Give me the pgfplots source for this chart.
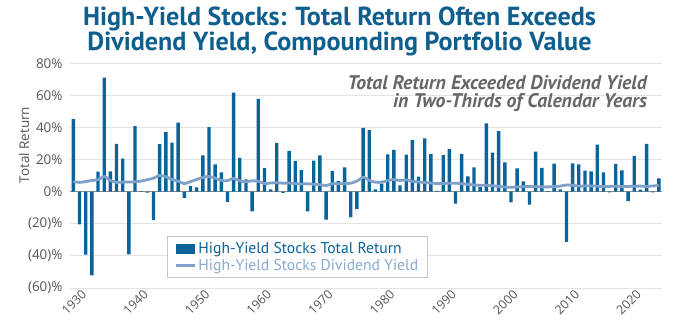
\documentclass[border=0pt]{standalone}
\usepackage{fontspec}
\setmainfont{Open Sans}
\newfontfamily\ptsans{PT Sans}
\usepackage{pgfplots}
\usepackage{pgfplotstable}
\pgfplotsset{compat=1.18}
\definecolor{barblue}{HTML}{0A6399}
\definecolor{titleblue}{HTML}{0E5F8E}
\definecolor{lineblue}{HTML}{7FA0C8}
\definecolor{legline}{HTML}{8AAAD0}
\definecolor{annogray}{HTML}{666666}
\definecolor{tickgray}{HTML}{555555}
\definecolor{gridgray}{HTML}{E3E3E3}
\definecolor{zerogray}{HTML}{8C8C8C}

\pgfplotstableread{
year tr dy
1928 45.2 6.3
1929 -20.4 5.8
1930 -39.2 6.3
1931 -52.1 7.0
1932 12.5 7.5
1933 71.0 9.5
1934 12.7 7.0
1935 29.8 5.8
1936 20.6 6.0
1937 -39.0 6.0
1938 40.8 6.2
1939 0.4 6.6
1940 -0.6 7.5
1941 -17.7 8.4
1942 29.6 10.2
1943 37.1 9.3
1944 30.6 7.7
1945 43.1 6.5
1946 -3.8 5.0
1947 3.5 6.3
1948 2.7 7.6
1949 22.7 9.0
1950 40.2 9.5
1951 17.1 8.5
1952 12.1 7.0
1953 -6.4 6.9
1954 61.7 8.3
1955 21.1 6.7
1956 7.7 6.2
1957 -12.2 6.8
1958 57.9 6.5
1959 14.7 5.1
1960 1.5 5.4
1961 30.4 5.6
1962 -0.7 5.3
1963 25.5 5.4
1964 19.1 5.0
1965 13.4 4.8
1966 -12.2 5.0
1967 19.4 4.6
1968 22.7 4.4
1969 -17.4 3.8
1970 13.0 5.0
1971 6.6 5.0
1972 15.1 5.0
1973 -16.0 5.3
1974 -10.9 6.6
1975 39.7 9.0
1976 38.3 7.1
1977 1.4 5.9
1978 5.0 5.9
1979 23.3 6.9
1980 26.0 7.6
1981 3.9 7.0
1982 23.1 7.4
1983 32.2 6.5
1984 9.4 6.0
1985 33.2 5.8
1986 23.4 5.4
1987 0.5 5.1
1988 22.8 5.1
1989 26.5 5.3
1990 -7.5 5.3
1991 23.5 5.0
1992 9.5 4.6
1993 15.2 4.2
1994 2.9 4.0
1995 42.6 4.0
1996 24.3 3.7
1997 37.7 3.3
1998 18.2 2.9
1999 -6.7 2.7
2000 14.5 3.0
2001 6.4 3.1
2002 -8.1 3.3
2003 24.9 3.1
2004 14.8 3.0
2005 0.3 3.0
2006 17.5 3.2
2007 1.5 3.5
2008 -31.2 4.2
2009 17.7 4.0
2010 17.1 3.5
2011 13.1 3.5
2012 12.7 3.6
2013 29.4 3.4
2014 12.1 3.2
2015 -0.4 3.3
2016 17.3 3.4
2017 13.3 3.2
2018 -5.8 3.3
2019 22.3 3.4
2020 1.3 3.5
2021 29.8 3.2
2022 -0.4 3.6
2023 8.3 3.7
}\datatable

\begin{document}
\begin{tikzpicture}
\useasboundingbox (0,0) rectangle (679bp,328bp);
\begin{axis}[
  at={(70bp,40bp)}, anchor=south west,
  scale only axis,
  width=591.7bp, height=224.7bp,
  xmin=1927.45, xmax=2023.45,
  ymin=-60, ymax=80,
  axis line style={draw=none},
  tick style={draw=none},
  ytick={-60,-40,-20,0,20,40,60,80},
  yticklabels={(60)\%,(40)\%,(20)\%,0\%,20\%,40\%,60\%,80\%},
  xtick={1930,1940,1950,1960,1970,1980,1990,2000,2010,2020},
  xticklabels={1930,1940,1950,1960,1970,1980,1990,2000,2010,2020},
  ymajorgrids,
  grid style={draw=gridgray, line width=0.9bp},
  yticklabel style={font=\fontsize{13.5}{13.5}\selectfont, text=tickgray, xshift=-4bp},
  xticklabel style={font=\fontsize{12.5}{12.5}\selectfont, text=tickgray, rotate=45, anchor=north east, xshift=-1bp, yshift=6bp},
  legend style={at={(0.164,0.231)}, anchor=north west, draw=gray!45, line width=0.8bp,
    font=\ptsans\fontsize{15.7}{15.7}\selectfont, inner xsep=7bp, inner ysep=4bp,
    row sep=0bp},
  legend cell align=left,
]
\draw[zerogray, line width=1.1bp] (axis cs:1927.45,0) -- (axis cs:2023.45,0);
\addplot[ybar, bar width=0.55, fill=barblue, draw=none,
  legend image code/.code={\fill[barblue] (0bp,-5bp) rectangle (19bp,5bp);}]
  table[x=year, y=tr] {\datatable};
\addlegendentry{\textcolor{barblue}{High-Yield Stocks Total Return}}
\addplot[lineblue, line width=2.8bp, smooth, tension=0.4, no marks,
  legend image code/.code={\draw[lineblue, line width=3bp] (0bp,0bp) -- (19bp,0bp);}]
  table[x=year, y=dy] {\datatable};
\addlegendentry{\textcolor{legline}{High-Yield Stocks Dividend Yield}}
\end{axis}
\node[anchor=base, align=center, text=titleblue,
  font=\ptsans\bfseries\fontsize{26.2}{23}\selectfont] at (339.5bp,277bp)
  {High-Yield Stocks: Total Return Often Exceeds\\Dividend Yield, Compounding Portfolio Value};
\node[anchor=base east, align=right, text=annogray, inner sep=0pt,
  font=\ptsans\bfseries\itshape\fontsize{19.8}{19}\selectfont] at (647bp,220bp)
  {Total Return Exceeded Dividend Yield\\in Two-Thirds of Calendar Years};
\node[rotate=90, text=tickgray, font=\fontsize{13.5}{13.5}\selectfont] at (24bp,183bp) {Total Return};
\end{tikzpicture}
\end{document}
